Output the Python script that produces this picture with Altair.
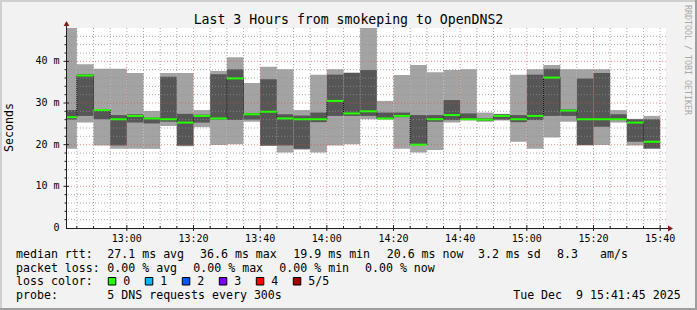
import altair as alt
import pandas as pd

# ---------------- data ----------------
DAY = "2025-12-09T"
bar_start = ["12:41:45", "12:45", "12:50", "12:55", "13:00", "13:05", "13:10", "13:15",
             "13:20", "13:25", "13:30", "13:35", "13:40", "13:45", "13:50", "13:55",
             "14:00", "14:05", "14:10", "14:15", "14:20", "14:25", "14:30", "14:35",
             "14:40", "14:45", "14:50", "14:55", "15:00", "15:05", "15:10", "15:15",
             "15:20", "15:25", "15:30", "15:35"]
last_end = "15:40"

# five sorted pings per step (ms)
p1 = [19.0, 25.3, 19.8, 19.0, 19.0, 19.0, 24.5, 19.6, 24.2, 19.9, 20.1, 25.5,
      19.7, 18.1, 18.8, 18.1, 19.8, 20.1, 26.1, 26.0, 19.0, 18.1, 18.7, 25.3,
      25.8, 25.5, 25.8, 20.7, 19.0, 21.7, 25.5, 19.8, 19.9, 25.3, 19.8, 19.0]
p2 = [26.0, 26.9, 26.1, 19.8, 25.3, 25.1, 25.5, 19.8, 25.3, 26.0, 25.9, 26.0,
      19.8, 19.8, 19.0, 25.4, 26.9, 26.9, 26.9, 26.2, 26.6, 19.9, 25.5, 25.9,
      26.0, 25.7, 26.0, 25.4, 25.9, 26.9, 26.9, 19.9, 24.3, 25.9, 20.7, 19.1]
median = [26.6, 36.6, 28.3, 26.1, 26.9, 26.3, 26.1, 25.3, 26.9, 26.3, 35.9, 27.3,
          27.9, 26.3, 26.1, 26.1, 30.5, 27.5, 28.0, 26.3, 26.9, 20.0, 26.1, 27.1,
          26.1, 26.0, 26.9, 26.1, 26.9, 36.1, 28.2, 26.1, 26.1, 26.1, 25.3, 20.7]
p4 = [28.3, 36.9, 28.4, 27.1, 27.3, 26.5, 36.3, 27.4, 27.2, 36.9, 38.1, 27.6,
      35.7, 27.3, 27.0, 27.7, 36.8, 37.2, 37.9, 27.7, 27.7, 27.1, 27.1, 30.7,
      27.5, 26.3, 27.3, 27.1, 36.8, 38.2, 28.5, 35.9, 37.2, 27.3, 26.1, 26.1]
p5 = [48.0, 39.3, 38.2, 38.2, 37.2, 28.1, 37.2, 37.2, 28.3, 37.7, 41.0, 34.8,
      38.7, 38.1, 28.3, 36.8, 38.1, 37.3, 48.0, 30.5, 36.7, 39.1, 37.4, 37.9,
      38.1, 27.7, 27.4, 36.8, 38.1, 39.1, 38.1, 38.1, 38.1, 28.3, 26.2, 26.9]

x_ticks = ["13:00", "13:20", "13:40", "14:00", "14:20", "14:40", "15:00", "15:20", "15:40"]
y_ticks = [0, 10, 20, 30, 40]
y_tick_labels = ["0", "10 m", "20 m", "30 m", "40 m"]
y_minor = [2, 4, 6, 8, 12, 14, 16, 18, 22, 24, 26, 28, 32, 34, 36, 38, 42, 44, 46]
y_major = [10, 20, 30, 40]

title_text = "Last 3 Hours from smokeping to OpenDNS2"
row1 = [("median rtt:", 16), ("27.1 ms avg", 107.3), ("36.6 ms max", 200),
        ("19.9 ms min", 293.3), ("20.6 ms now", 386.7), ("3.2 ms sd", 478),
        ("8.3", 557), ("am/s", 600)]
row2 = [("packet loss:", 16), ("0.00 % avg", 107.3), ("0.00 % max", 193.3),
        ("0.00 % min", 279.3), ("0.00 % now", 365)]
loss_labels = ["0", "1", "2", "3", "4", "5/5"]
loss_colors = ["#26ff00", "#00b8ff", "#0059ff", "#7e00ff", "#ff0000", "#a00000"]
probe_text = "5 DNS requests every 300s"
date_text = "Tue Dec  9 15:41:45 2025"


def ts(s):
    return DAY + (s if s.count(":") == 2 else s + ":00")


def dt(s):
    parts = [int(v) for v in s.split(":")]
    sec = parts[2] if len(parts) > 2 else 0
    return alt.DateTime(year=2025, month=12, date=9, hours=parts[0], minutes=parts[1], seconds=sec)


bar_end = bar_start[1:] + [last_end]
df = pd.DataFrame({
    "start": [ts(s) for s in bar_start],
    "end": [ts(s) for s in bar_end],
    "p1": p1, "p2": p2, "p3": median, "p4": p4, "p5": p5,
})
conn = pd.DataFrame({
    "t": [ts(s) for s in bar_start[1:]],
    "a": median[:-1],
    "b": median[1:],
})
edges = bar_start[1:] + [last_end]
xminor = pd.DataFrame({"t": [ts(s) for s in edges if s not in x_ticks]})
xmajor = pd.DataFrame({"t": [ts(s) for s in x_ticks], "lab": x_ticks})
yminor = pd.DataFrame({"v": y_minor})
ymajor = pd.DataFrame({"v": y_major})
ylab = pd.DataFrame({"v": y_ticks, "lab": y_tick_labels})
dummy = pd.DataFrame({"d": [0]})

# ---------------- geometry ----------------
W, H = 600, 200
X0, Y0 = 66, 28          # plot origin inside the 697x310 image
FONT = "DejaVu Sans Mono"
AXC = "#1f1f1f"
GRID = "rgba(143,143,143,0.75)"
MGRID = "rgba(222,79,79,0.6)"

xscale = alt.Scale(domain=[dt("12:41:45"), dt("15:41:45")])
yscale = alt.Scale(domain=[0, 48], nice=False, zero=True)

base = alt.Chart(df)
light = base.mark_rect(color="#a3a3a3").encode(
    x=alt.X("start:T", scale=xscale, axis=None), x2="end:T",
    y=alt.Y("p1:Q", scale=yscale, axis=None), y2="p5:Q")
dark = base.mark_rect(color="#565656").encode(
    x=alt.X("start:T", scale=xscale, axis=None), x2="end:T",
    y=alt.Y("p2:Q", scale=yscale, axis=None), y2="p4:Q")

gminor_x = alt.Chart(xminor).mark_rule(color=GRID, strokeDash=[1, 2], strokeWidth=1).encode(
    x=alt.X("t:T", scale=xscale, axis=None))
gmajor_x = alt.Chart(xmajor).mark_rule(color=MGRID, strokeDash=[1, 2], strokeWidth=1).encode(
    x=alt.X("t:T", scale=xscale, axis=None))
gminor_y = alt.Chart(yminor).mark_rule(color=GRID, strokeDash=[1, 2], strokeWidth=1).encode(
    y=alt.Y("v:Q", scale=yscale, axis=None))
gmajor_y = alt.Chart(ymajor).mark_rule(color=MGRID, strokeDash=[1, 2], strokeWidth=1).encode(
    y=alt.Y("v:Q", scale=yscale, axis=None))

connectors = alt.Chart(conn).mark_rule(color="#000000", strokeDash=[1, 1], strokeWidth=1).encode(
    x=alt.X("t:T", scale=xscale, axis=None),
    y=alt.Y("a:Q", scale=yscale, axis=None), y2="b:Q")
med = base.mark_rule(color="#26ff00", strokeWidth=2).encode(
    x=alt.X("start:T", scale=xscale, axis=None), x2="end:T",
    y=alt.Y("p3:Q", scale=yscale, axis=None))

layers = [light, dark, gminor_x, gminor_y, gmajor_x, gmajor_y, connectors, med]

# tick marks on the axes
layers.append(alt.Chart(xminor).mark_rule(color=AXC, strokeWidth=1).encode(
    x=alt.X("t:T", scale=xscale, axis=None), y=alt.value(198), y2=alt.value(200)))
layers.append(alt.Chart(xmajor).mark_rule(color=AXC, strokeWidth=1).encode(
    x=alt.X("t:T", scale=xscale, axis=None), y=alt.value(197), y2=alt.value(203)))
layers.append(alt.Chart(yminor).mark_rule(color=AXC, strokeWidth=1).encode(
    y=alt.Y("v:Q", scale=yscale, axis=None), x=alt.value(-1.5), x2=alt.value(1)))
layers.append(alt.Chart(ymajor).mark_rule(color=AXC, strokeWidth=1).encode(
    y=alt.Y("v:Q", scale=yscale, axis=None), x=alt.value(-2.5), x2=alt.value(3)))

# tick labels, placed through the scales
layers.append(alt.Chart(xmajor).mark_text(font=FONT, fontSize=10, color="#000000",
                                          align="center", baseline="middle").encode(
    x=alt.X("t:T", scale=xscale, axis=None), y=alt.value(210.5), text="lab:N"))
layers.append(alt.Chart(ylab).mark_text(font=FONT, fontSize=10, color="#000000",
                                        align="right", baseline="middle").encode(
    y=alt.Y("v:Q", scale=yscale, axis=None), x=alt.value(-6.5), text="lab:N"))

D = alt.Chart(dummy)
# axes lines and arrows
layers.append(D.mark_rule(color=AXC, strokeWidth=1).encode(
    x=alt.value(0), x2=alt.value(604), y=alt.value(200.5)))
layers.append(D.mark_rule(color=AXC, strokeWidth=1).encode(
    x=alt.value(0.5), y=alt.value(200), y2=alt.value(-3)))
layers.append(D.mark_point(shape="triangle-up", filled=True, opacity=1, color="#801f1f", size=34).encode(
    x=alt.value(0.5), y=alt.value(-4.5)))
layers.append(D.mark_point(shape="triangle-right", filled=True, opacity=1, color="#801f1f", size=34).encode(
    x=alt.value(604.5), y=alt.value(200.5)))

# image frame (3-D shading)
layers.append(D.mark_rule(color="#cfcfcf", strokeWidth=2).encode(
    x=alt.value(-X0), x2=alt.value(697 - X0), y=alt.value(-Y0 + 1)))
layers.append(D.mark_rule(color="#cfcfcf", strokeWidth=2).encode(
    x=alt.value(-X0 + 1), y=alt.value(-Y0), y2=alt.value(310 - Y0)))
layers.append(D.mark_rule(color="#9e9e9e", strokeWidth=2).encode(
    x=alt.value(-X0), x2=alt.value(697 - X0), y=alt.value(310 - Y0 - 1)))
layers.append(D.mark_rule(color="#9e9e9e", strokeWidth=2).encode(
    x=alt.value(697 - X0 - 1), y=alt.value(-Y0), y2=alt.value(310 - Y0)))


def txt(s, x, y, size=11.6, align="left", color="#000000", angle=0, baseline="middle"):
    return D.mark_text(font=FONT, fontSize=size, align=align, baseline=baseline,
                       color=color, angle=angle).encode(
        text=alt.value(s.replace(" ", "\u00a0")),
        x=alt.value(x - X0), y=alt.value(y - Y0))


layers.append(txt(title_text, 348.5, 19.5, size=13.2, align="center"))
layers.append(txt("Seconds", 10, 127.5, angle=270, align="center"))
layers.append(txt("RRDTOOL / TOBI OETIKER", 687, 5, size=8.3, angle=90, color="#a8a8a8"))

R1, R2, R3, R4 = 254.5, 268.5, 282, 296
for s, x in row1:
    layers.append(txt(s, x, R1))
for s, x in row2:
    layers.append(txt(s, x, R2))
layers.append(txt("loss color:", 16, R3))
for i, (lab, col) in enumerate(zip(loss_labels, loss_colors)):
    bx = 108.3 + 37 * i
    layers.append(D.mark_rect(fill=col, stroke="#000000", strokeWidth=1).encode(
        x=alt.value(bx - X0), x2=alt.value(bx + 7.5 - X0),
        y=alt.value(277.5 - Y0), y2=alt.value(285 - Y0)))
    layers.append(txt(lab, bx + 15, R3))
layers.append(txt("probe:", 16, R4))
layers.append(txt(probe_text, 107.3, R4))
layers.append(txt(date_text, 680.7, R4, align="right"))

chart = alt.layer(*layers).properties(
    width=W, height=H,
    autosize=alt.AutoSizeParams(type="none"),
    padding={"left": X0, "top": Y0, "right": 697 - X0 - W, "bottom": 310 - Y0 - H},
    background="#f2f2f2",
).configure_view(fill="#ffffff", stroke="transparent", strokeWidth=0)

chart.save("out.html", embed_options={"renderer": "svg", "actions": False})
